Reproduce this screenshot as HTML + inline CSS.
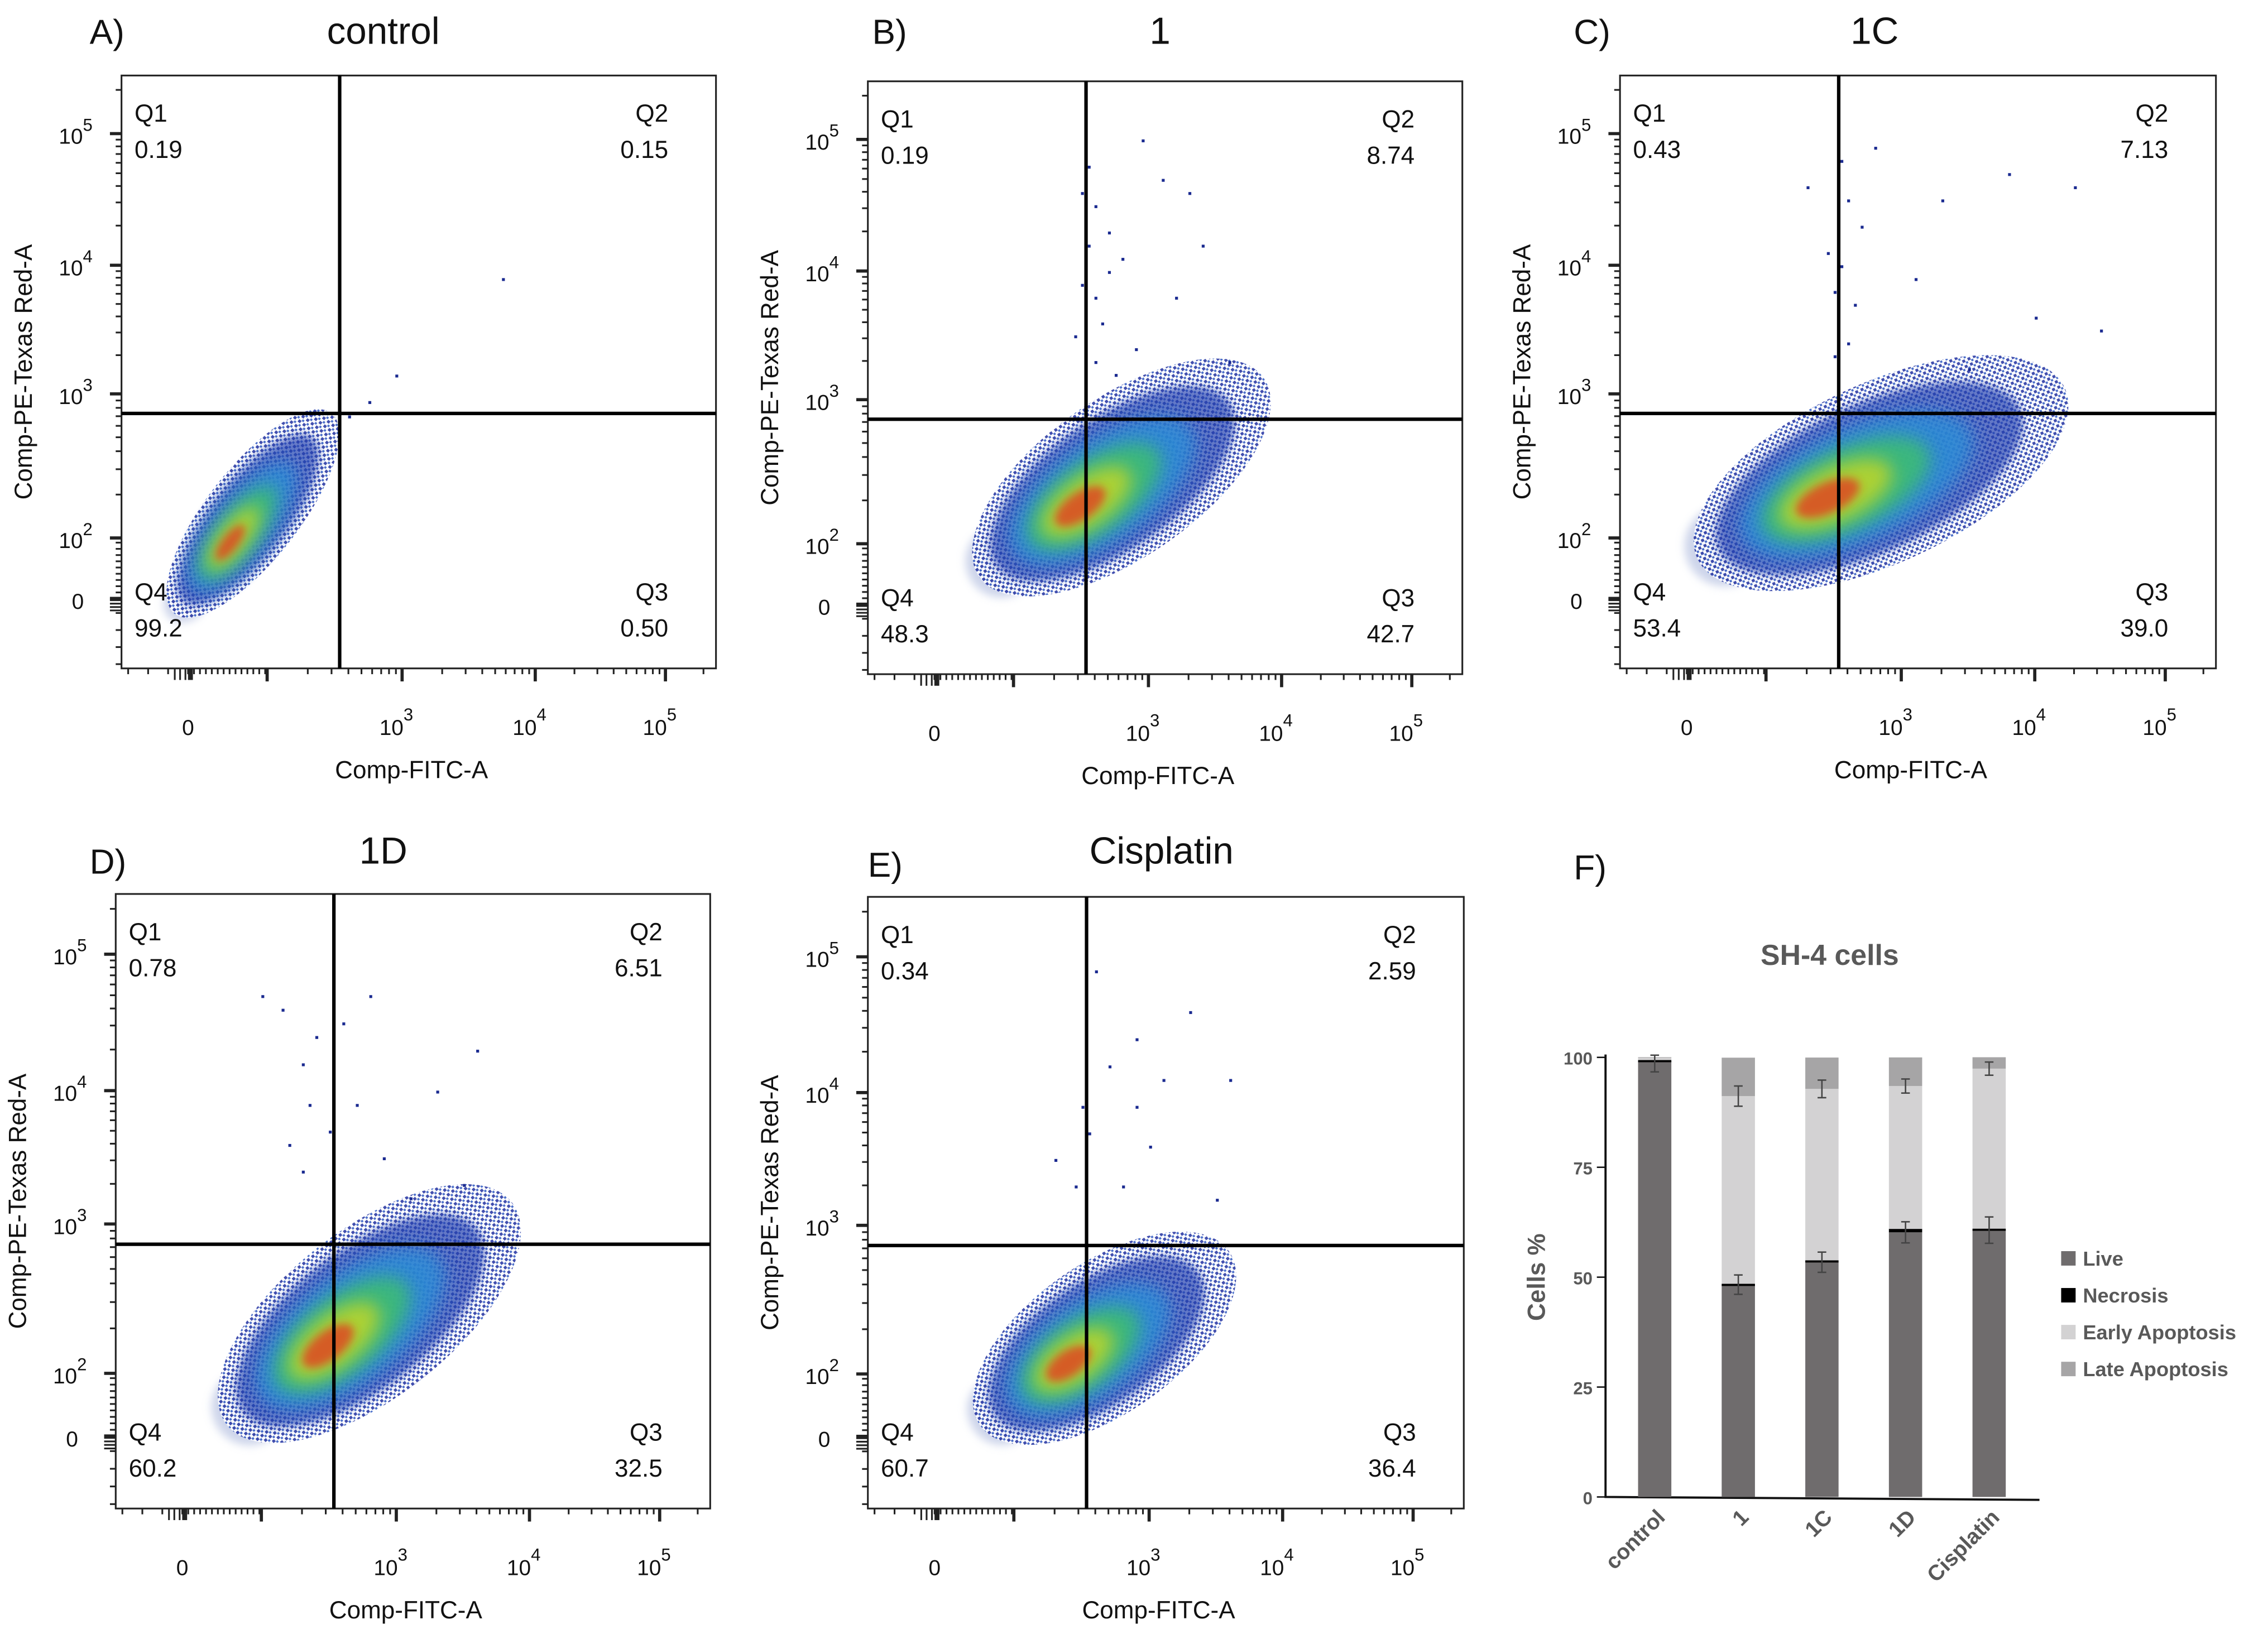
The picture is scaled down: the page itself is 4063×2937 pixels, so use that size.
<!DOCTYPE html>
<html><head><meta charset="utf-8"><style>
html,body{margin:0;padding:0;background:#fff;}
svg{display:block;font-family:"Liberation Sans",Arial,sans-serif;}
</style></head><body>
<svg id="fig" width="4063" height="2937" viewBox="0 0 1568 1133" xmlns="http://www.w3.org/2000/svg">
<defs>
<filter id="blur2" x="-50%" y="-50%" width="200%" height="200%"><feGaussianBlur stdDeviation="3"/></filter>
<filter id="blur5" x="-50%" y="-50%" width="200%" height="200%"><feGaussianBlur stdDeviation="6"/></filter>
<pattern id="stip" width="4" height="4" patternUnits="userSpaceOnUse"><rect width="4" height="4" fill="#fff"/><rect x="0" y="0" width="2" height="2" fill="#1f2fa0"/><rect x="2" y="2" width="1.5" height="1.5" fill="#2a55c0"/></pattern>
</defs>
</svg>
<script>
// ===== Flow panel data =====
const panelIds = ['A','B','C','D','E'];
const panelTitles = ['control','1','1C','1D','Cisplatin'];
const q1Vals = ['0.19','0.19','0.43','0.78','0.34'];
const q2Vals = ['0.15','8.74','7.13','6.51','2.59'];
const q3Vals = ['0.50','42.7','39.0','32.5','36.4'];
const q4Vals = ['99.2','48.3','53.4','60.2','60.7'];
// cluster centre in decade units (x: FITC, y: PE-Texas Red)
const clusterX = [1.64, 2.8, 2.85, 2.8, 2.67];
const clusterY = [2.17, 2.46, 2.45, 2.4, 2.24];
// sparse Q2/Q1 events [x,y] in decade units
const sparseA = [[3.75,3.9],[2.95,3.15],[2.6,2.85],[2.75,2.95]];
const sparseB = [[2.55,4.8],[2.6,4.5],[2.7,4.3],[3.1,4.7],[2.5,3.9],[2.65,3.6],[2.8,4.1],[2.45,3.5],[2.95,5.0],[2.55,4.2],[3.6,3.3],[2.75,3.2],[2.6,3.8],[2.7,4.0],[3.3,4.6],[3.4,4.2],[2.5,4.6],[2.9,3.4],[3.2,3.8],[2.6,3.3]];
const sparseC = [[2.3,4.6],[2.55,4.8],[2.6,4.5],[2.7,4.3],[3.8,4.7],[4.3,4.6],[2.5,3.8],[2.6,3.4],[3.1,3.9],[4.5,3.5],[2.45,4.1],[3.5,3.2],[2.55,4.0],[2.65,3.7],[3.3,4.5],[2.8,4.9],[2.5,3.3],[4.0,3.6]];
const sparseD = [[2.0,4.7],[2.15,4.6],[2.4,4.4],[2.8,4.7],[2.35,3.9],[3.3,4.0],[3.6,4.3],[2.2,3.6],[2.9,3.5],[3.1,3.2],[2.3,4.2],[2.5,3.7],[2.6,4.5],[2.3,3.4],[3.5,3.3],[2.7,3.9]];
const sparseE = [[2.6,4.9],[2.9,4.4],[3.3,4.6],[3.6,4.1],[2.5,3.9],[3.0,3.6],[2.3,3.5],[2.8,3.3],[3.5,3.2],[2.55,3.7],[2.7,4.2],[3.1,4.1],[2.45,3.3],[2.9,3.9]];
const sparseAll = [sparseA, sparseB, sparseC, sparseD, sparseE];
// ===== Bar chart data =====
const barCats = ['control','1','1C','1D','Cisplatin'];
const liveVals = [99.2, 48.3, 53.4, 60.2, 60.7];
const necVals = [0.19, 0.19, 0.43, 0.78, 0.34];
const earlyVals = [0.5, 42.7, 39.0, 32.5, 36.4];
const lateVals = [0.15, 8.74, 7.13, 6.51, 2.59];
const liveErr = [2.5, 2.2, 2.3, 2.4, 3.0];
const lateErr = [0.3, 2.3, 2.0, 1.6, 1.5];
const yTicks = [0, 25, 50, 75, 100];

const NS='http://www.w3.org/2000/svg';
const svg=document.getElementById('fig');
function mk(tag, attrs, parent){const e=document.createElementNS(NS,tag);for(const k in attrs)e.setAttribute(k,attrs[k]);(parent||svg).appendChild(e);return e;}
function txt(s,attrs,parent){const e=mk('text',attrs,parent);e.textContent=s;return e;}
function interp(v, dom, rng){
  let i=0; while(i<dom.length-2 && v>dom[i+1]) i++;
  return rng[i]+(v-dom[i])/(dom[i+1]-dom[i])*(rng[i+1]-rng[i]);
}
const xDom=[-0.5,0,2,3,4,5,5.4], xFr=[0.0,0.112,0.245,0.472,0.696,0.915,1.0];
const yDom=[-0.8,0,2,3,4,5,5.4], yFr=[1.0,0.885,0.78,0.537,0.32,0.098,0.0];

const boxes=[[84,52,495,462],[600,56,1011,466],[1120,52,1532,462],[80,618,491,1043],[600,620,1012,1043]];
const letterPos=[[62,30],[603,30],[1088,30],[62,604],[600,606]];
const titlePos=[[265,30],[802,30],[1296,30],[265,597],[803,597]];
const blobShape=[[88,32,-52],[120,55,-35],[140,62,-25],[125,58,-38],[105,52,-35]];

boxes.forEach((b,i)=>{
  const [x0,y0,x1,y1]=b;
  const g=mk('g',{});
  
  
  const sx=v=>x0+interp(v,xDom,xFr)*(x1-x0);
  const sy=v=>y0+interp(v,yDom,yFr)*(y1-y0);
  const L=txt(panelIds[i]+')',{x:letterPos[i][0],y:letterPos[i][1],'font-size':24,fill:'#111'},g);
  
  
  const T=txt(panelTitles[i],{x:titlePos[i][0],y:titlePos[i][1],'font-size':26,'text-anchor':'middle',fill:'#111'},g);
  
  
  const fr=mk('rect',{x:x0,y:y0,width:x1-x0,height:y1-y0,fill:'#fff',stroke:'#222','stroke-width':1.2},g);
  
  
  const cx=sx(clusterX[i]), cy=sy(clusterY[i]);
  const [ra,rb,ang]=blobShape[i];
  const cg=mk('g',{transform:`rotate(${ang} ${cx} ${cy})`},g);
  
  
  const lp=mk('ellipse',{cx:cx-ra*0.85,cy:cy,rx:ra*0.2,ry:rb*0.45,fill:'#c8d0e8',opacity:0.9,filter:'url(#blur2)'},cg);
  
  
  const layers=[[1.0,'url(#stip)',0.85,null],[0.82,'#2340b0',0.7,'url(#blur2)'],[0.62,'#2a90d8',0.8,'url(#blur5)'],[0.45,'#3cbf70',0.85,'url(#blur5)'],[0.3,'#c8d820',0.8,'url(#blur5)'],[0.17,'#e04020',0.8,'url(#blur2)']];
  layers.forEach(l=>{
    const e=mk('ellipse',{cx:cx-ra*(1-l[0])*0.35,cy:cy,rx:ra*l[0],ry:rb*l[0],fill:l[1],opacity:l[2]},cg);
    if(l[3])e.setAttribute('filter',l[3]);
  });
  sparseAll[i].forEach(p=>{
    const d=mk('rect',{x:sx(p[0]),y:sy(p[1]),width:2,height:2,fill:'#1a2a90'},g);
    
    
  });
  const gx=x0+0.367*(x1-x0), gy=y0+0.57*(y1-y0);
  const vl=mk('line',{x1:gx,y1:y0,x2:gx,y2:y1,stroke:'#000','stroke-width':2.4},g);
  
  
  const hl=mk('line',{x1:x0,y1:gy,x2:x1,y2:gy,stroke:'#000','stroke-width':2.4},g);
  
  
  const qa={'font-size':17,fill:'#111'};
  const qs=[['Q1',x0+9,y0+32,'start'],[q1Vals[i],x0+9,y0+57,'start'],['Q2',x1-33,y0+32,'end'],[q2Vals[i],x1-33,y0+57,'end'],
            ['Q4',x0+9,y1-47,'start'],[q4Vals[i],x0+9,y1-22,'start'],['Q3',x1-33,y1-47,'end'],[q3Vals[i],x1-33,y1-22,'end']];
  qs.forEach((q,k)=>{
    const t=txt(q[0],Object.assign({x:q[1],y:q[2],'text-anchor':q[3]},qa),g);
    
    
  });
  const ya=mk('g',{stroke:'#222','stroke-width':1.2},g);
  
  
  for(let d=2; d<=5; d++){
    mk('line',{x1:x0-8,y1:sy(d),x2:x0,y2:sy(d),'stroke-width':2.2},ya);
    for(let k=2;k<=9;k++){ if(d+Math.log10(k)>5.35) break; mk('line',{x1:x0-4,y1:sy(d+Math.log10(k)),x2:x0,y2:sy(d+Math.log10(k))},ya);}
  }
  for(let v=-0.75; v<2; v+=0.2){ mk('line',{x1:x0-4,y1:sy(v),x2:x0,y2:sy(v)},ya);}
  for(let v=-0.12; v<=0.12; v+=0.04){ mk('line',{x1:x0-8,y1:sy(v),x2:x0,y2:sy(v)},ya);}
  [[2,'2'],[3,'3'],[4,'4'],[5,'5']].forEach(t=>{
    const e=txt('10',{x:x0-20,y:sy(t[0])+7,'font-size':15,'text-anchor':'end',fill:'#111'},g);
    const s=mk('tspan',{dy:-9,'font-size':12},e); s.textContent=t[1];
    
    
  });
  const z=txt('0',{x:x0-26,y:sy(0)+6,'font-size':15,'text-anchor':'end',fill:'#111'},g);
  
  
  const xa=mk('g',{stroke:'#222','stroke-width':1.2},g);
  
  
  for(let d=2; d<=5; d++){
    mk('line',{x1:sx(d),y1:y1,x2:sx(d),y2:y1+9,'stroke-width':2.2},xa);
    for(let k=2;k<=9;k++){ if(d+Math.log10(k)>5.35) break; mk('line',{x1:sx(d+Math.log10(k)),y1:y1,x2:sx(d+Math.log10(k)),y2:y1+4},xa);}
  }
  for(let v=-0.45; v<2; v+=0.15){ mk('line',{x1:sx(v),y1:y1,x2:sx(v),y2:y1+4},xa);}
  for(let v=-0.1; v<=0.1; v+=0.04){ mk('line',{x1:sx(v),y1:y1,x2:sx(v),y2:y1+8},xa);}
  [[3,'3'],[4,'4'],[5,'5']].forEach(t=>{
    const e=txt('10',{x:sx(t[0])-4,y:y1+46,'font-size':15,'text-anchor':'middle',fill:'#111'},g);
    const s=mk('tspan',{dy:-10,'font-size':12},e); s.textContent=t[1];
    
    
  });
  const z2=txt('0',{x:sx(0),y:y1+46,'font-size':15,'text-anchor':'middle',fill:'#111'},g);
  
  
  const xl=txt('Comp-FITC-A',{x:(x0+x1)/2-5,y:y1+76,'font-size':17,'text-anchor':'middle',fill:'#111'},g);
  
  
  const ycx=x0-62, ycy=(y0+y1)/2;
  const yl=txt('Comp-PE-Texas Red-A',{x:ycx,y:ycy,'font-size':17,'text-anchor':'middle',fill:'#111',transform:`rotate(-90 ${ycx} ${ycy})`},g);
  
  
});

// ===== Bar chart F =====
const fg=mk('g',{});


const fl=txt('F)',{x:1088,y:608,'font-size':24,fill:'#111'},fg);


const ft=txt('SH-4 cells',{x:1265,y:667,'font-size':20,'font-weight':'bold','text-anchor':'middle',fill:'#595959'},fg);


const by=v=>1035-v*3.04;
const bx=i=>1144+i*57.8;
const bw=23;
const ax=mk('path',{d:'M1110 729 L1110 1035 L1410 1037',fill:'none',stroke:'#111','stroke-width':1.5},fg);


yTicks.forEach(t=>{
  mk('line',{x1:1104,y1:by(t),x2:1110,y2:by(t),stroke:'#111','stroke-width':1},fg);
  const e=txt(String(t),{x:1101,y:by(t)+5,'font-size':12,'font-weight':'bold','text-anchor':'end',fill:'#595959'},fg);
  
  
});
const yt=txt('Cells %',{x:1068,y:883,'font-size':17,'font-weight':'bold','text-anchor':'middle',fill:'#595959',transform:'rotate(-90 1068 883)'},fg);


const segCols=['#6f6c6d','#000','#d3d2d3','#a6a5a6'];
const segNames=['live','necrosis','early-apoptosis','late-apoptosis'];
barCats.forEach((c,i)=>{
  const vals=[liveVals[i],necVals[i],earlyVals[i],lateVals[i]];
  let base=0;
  vals.forEach((v,k)=>{
    const r=mk('rect',{x:bx(i)-bw/2,y:by(base+v),width:bw,height:Math.max(v*3.04,k==1?1.5:0),fill:segCols[k]},fg);
    
    
    base+=v;
  });
  [[liveVals[i],liveErr[i]],[liveVals[i]+necVals[i]+earlyVals[i],lateErr[i]]].forEach((e,k)=>{
    if(i==0&&k==1) return;
    const v=e[0], er=e[1];
    const eg=mk('g',{stroke:'#444','stroke-width':1},fg);
    
    
    mk('line',{x1:bx(i),y1:by(v-er),x2:bx(i),y2:by(Math.min(v+er,100.5))},eg);
    mk('line',{x1:bx(i)-3,y1:by(v-er),x2:bx(i)+3,y2:by(v-er)},eg);
    mk('line',{x1:bx(i)-3,y1:by(Math.min(v+er,100.5)),x2:bx(i)+3,y2:by(Math.min(v+er,100.5))},eg);
  });
  const lx=bx(i)+8, ly=1050;
  const lab=txt(c,{x:lx,y:ly,'font-size':15,'font-weight':'bold','text-anchor':'end',fill:'#595959',transform:`rotate(-45 ${lx} ${ly})`},fg);
  
  
});
const legNames=['Live','Necrosis','Early Apoptosis','Late Apoptosis'];
legNames.forEach((n,k)=>{
  const lg=mk('g',{},fg);
  
  
  mk('rect',{x:1425,y:865+k*25.5,width:10,height:10,fill:segCols[k]},lg);
  txt(n,{x:1440,y:875+k*25.5,'font-size':14,'font-weight':'bold',fill:'#595959'},lg);
});
</script>
</body></html>
